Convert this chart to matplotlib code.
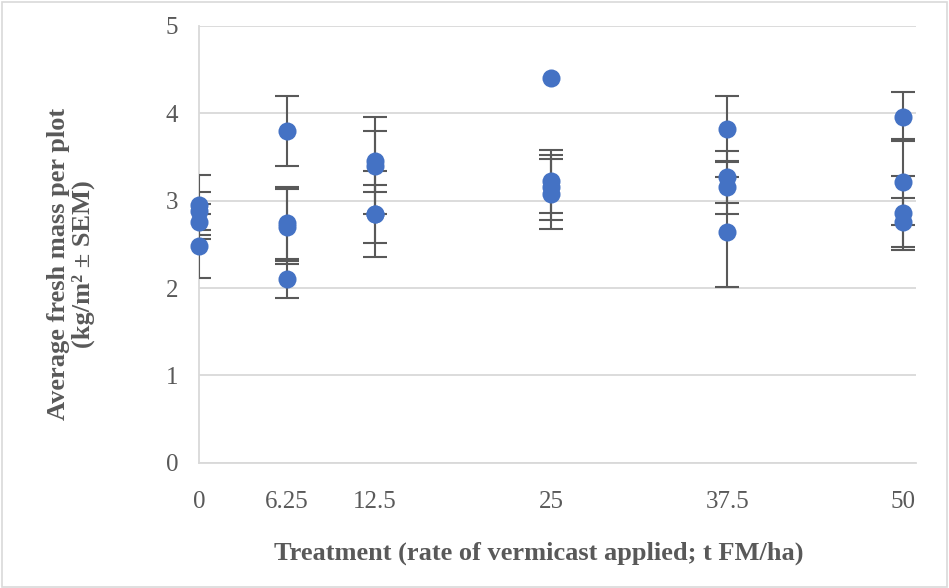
import matplotlib.pyplot as plt
import matplotlib.patches as patches
import numpy as np

# Treatment rates (t FM/ha) and tick labels
treatment = [0, 6.25, 12.5, 25, 37.5, 50]
tick_labels = ["0", "6.25", "12.5", "25", "37.5", "50"]

# Four plots per treatment: mean fresh mass (kg/m2) and SEM
rep1 = [2.95, 3.79, 3.45, 4.40, 3.82, 3.96]
rep2 = [2.88, 2.74, 3.40, 3.22, 3.27, 3.21]
rep3 = [2.76, 2.70, 2.85, 3.15, 3.15, 2.86]
rep4 = [2.48, 2.10, 2.85, 3.08, 2.64, 2.75]
sem1 = [0.34, 0.40, 0.35, 0.00, 0.38, 0.28]
sem2 = [0.22, 0.41, 0.55, 0.36, 0.30, 0.49]
sem3 = [0.20, 0.43, 0.33, 0.37, 0.30, 0.42]
sem4 = [0.37, 0.21, 0.49, 0.40, 0.63, 0.28]

reps = [rep1, rep2, rep3, rep4]
sems = [sem1, sem2, sem3, sem4]

plt.rcParams["font.family"] = ["Liberation Serif", "DejaVu Serif"]

fig = plt.figure(figsize=(9.49, 5.88), dpi=100)
ax = fig.add_axes([0.2097, 0.2126, 0.7555, 0.744])

blue = "#4472C4"
grey = "#595959"

x = np.array(treatment)
for vals, errs in zip(reps, sems):
    vals = np.array(vals)
    errs = np.array(errs)
    keep = errs > 0
    ax.errorbar(x[keep], vals[keep], yerr=errs[keep], fmt="none", ecolor=grey,
                elinewidth=1.5, capsize=8.5, capthick=1.5, zorder=3)
for vals in reps:
    ax.plot(treatment, vals, linestyle="none", marker="o", markersize=13,
            color=blue, markeredgewidth=0, zorder=4, clip_on=False)

ax.set_xlim(0, 50.9)
ax.set_ylim(0, 5)
ax.set_xticks(treatment)
ax.set_xticklabels(tick_labels)
ax.set_yticks(np.arange(0, 6, 1))
ax.tick_params(axis="both", length=0, labelsize=18, labelcolor=grey)
ax.tick_params(axis="y", pad=15)
ax.tick_params(axis="x", pad=20)

ax.grid(True, axis="y", color="#d9d9d9", linewidth=1.3)
ax.set_axisbelow(True)
for side in ["top", "right"]:
    ax.spines[side].set_visible(False)
ax.spines["left"].set_color("#d9d9d9")
ax.spines["left"].set_linewidth(1.3)
ax.spines["bottom"].set_color("#d9d9d9")
ax.spines["bottom"].set_linewidth(1.3)

fig.text(539 / 949, 1 - 553 / 588, "Treatment (rate of vermicast applied; t FM/ha)",
         ha="center", va="center", fontsize=19, fontweight="bold", color=grey)
fig.text(71 / 949, 1 - 264 / 588, "Average fresh mass per plot\n(kg/m² ± SEM)",
         ha="center", va="center", rotation=90, fontsize=19, fontweight="bold",
         color=grey, linespacing=1.1)

# light border around the chart area
fig.patches.append(patches.Rectangle((0.002, 0.002), 0.996, 0.994,
                                     transform=fig.transFigure, fill=False,
                                     edgecolor="#d9d9d9", linewidth=1.2))

fig.savefig("out.png", dpi=100)
